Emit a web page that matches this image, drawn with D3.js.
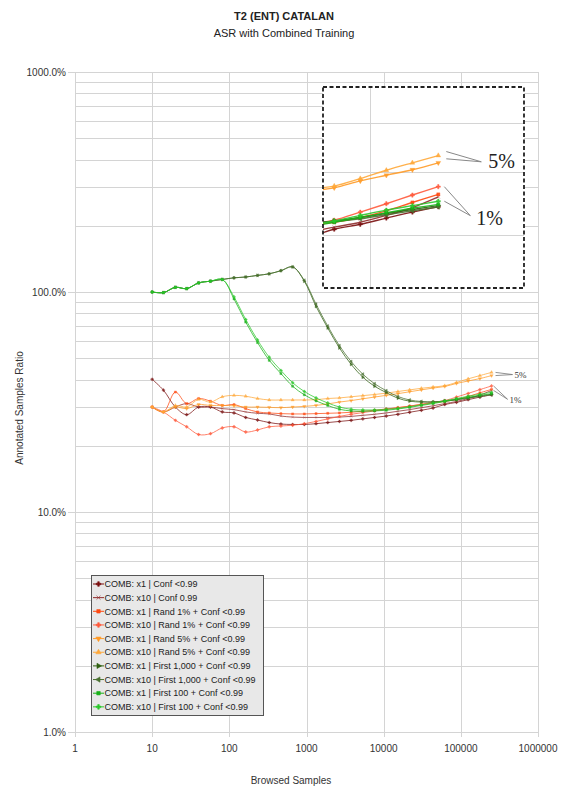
<!DOCTYPE html>
<html>
<head>
<meta charset="utf-8">
<script src="https://cdn.jsdelivr.net/npm/d3@7"></script>
<style>
  body { margin: 0; background: #fff; }
  svg { display: block; }
  text { font-family: "Liberation Sans", Arial, sans-serif; fill: #222; }
</style>
</head>
<body>
<svg id="chart" width="568" height="789"></svg>
<script>
// ---- data -------------------------------------------------------------
const chartTitle = "T2 (ENT) CATALAN";
const chartSubtitle = "ASR with Combined Training";
const xAxisTitle = "Browsed Samples";
const yAxisTitle = "Annotated Samples Ratio";

const xTickValues = [1, 10, 100, 1000, 10000, 100000, 1000000];
const xTickLabels = ["1", "10", "100", "1000", "10000", "100000", "1000000"];
const yTickValues = [1, 10, 100, 1000];
const yTickLabels = ["1.0%", "10.0%", "100.0%", "1000.0%"];

// browsed samples at each evaluation step
const samples = [10, 14, 20, 28, 40, 57, 81, 115, 163, 232, 329, 466, 661, 937,
  1330, 1885, 2670, 3790, 5370, 7620, 10800, 15300, 21700, 30800, 43700,
  61900, 87800, 124500, 176600, 250000];

const seriesNames = [
  "COMB: x1 | Conf <0.99",
  "COMB: x10 | Conf 0.99",
  "COMB: x1 | Rand 1% + Conf <0.99",
  "COMB: x10 | Rand 1% + Conf <0.99",
  "COMB: x1 | Rand 5% + Conf <0.99",
  "COMB: x10 | Rand 5% + Conf <0.99",
  "COMB: x1 | First 1,000 + Conf <0.99",
  "COMB: x10 | First 1,000 + Conf <0.99",
  "COMB: x1 | First 100 + Conf <0.99",
  "COMB: x10 | First 100 + Conf <0.99"
];

// annotated samples ratio, in percent
const confX1 = [40.1, 35.8, 30.0, 27.7, 30.0, 30.0, 28.5, 28.2, 26.9, 26.2, 25.5, 25.1, 25.0, 25.0, 25.2,
  25.5, 25.8, 26.1, 26.5, 26.9, 27.3, 27.8, 28.4, 29.0, 29.7, 30.8, 31.5, 32.4, 33.3, 34.1];
const confX10 = [30.0, 28.5, 30.0, 31.1, 30.0, 30.0, 29.5, 29.2, 28.5, 28.1, 27.9, 27.3, 27.0, 26.9, 26.9,
  26.9, 27.0, 27.2, 27.5, 27.8, 28.2, 28.7, 29.2, 29.8, 30.4, 31.1, 31.8, 32.8, 34.0, 35.7];
const rand1X1 = [30.0, 28.5, 35.1, 31.1, 32.8, 31.9, 30.5, 30.8, 29.5, 28.5, 28.2, 28.0, 27.9, 27.9, 28.0,
  28.1, 28.2, 28.4, 28.7, 29.0, 29.4, 29.8, 30.3, 30.8, 31.4, 31.8, 32.5, 33.5, 34.8, 36.1];
const rand1X10 = [30.0, 28.5, 26.1, 24.4, 22.5, 22.7, 24.1, 24.4, 23.1, 23.6, 24.4, 24.6, 24.8, 25.2, 25.8,
  26.5, 27.2, 27.8, 28.3, 28.8, 29.3, 29.8, 30.3, 30.9, 31.5, 32.1, 33.3, 34.6, 36.0, 37.4];
const rand5X1 = [30.0, 28.5, 30.0, 29.5, 30.8, 30.5, 30.5, 30.4, 30.0, 30.0, 29.9, 29.8, 30.0, 30.2, 30.5,
  31.0, 31.6, 32.1, 32.7, 33.3, 33.9, 34.5, 35.2, 35.9, 36.6, 37.2, 38.4, 39.4, 40.4, 41.7];
const rand5X10 = [30.0, 28.5, 30.5, 30.0, 32.5, 31.6, 33.4, 33.9, 33.6, 32.8, 32.3, 32.3, 32.3, 32.3, 32.4,
  32.8, 33.0, 33.4, 33.8, 34.2, 34.7, 35.3, 35.9, 36.5, 37.0, 37.5, 38.8, 40.3, 41.7, 43.1];
const first1000X1 = [100, 99.4, 105, 103.6, 110, 112, 114, 116, 117, 119, 121, 125, 130, 112, 86,
  68.6, 55.7, 46.9, 41.0, 37.3, 34.9, 32.9, 31.9, 31.6, 31.6, 32.0, 32.5, 33.1, 33.7, 34.3];
const first1000X10 = [100, 99.4, 105, 103.6, 110, 112, 114, 116, 117, 119, 121, 125, 130, 113, 88,
  70.0, 57.0, 48.3, 42.3, 38.3, 35.6, 33.5, 32.3, 31.8, 31.7, 31.9, 32.3, 32.9, 33.5, 34.1];
const first100X1 = [100, 99.4, 105, 103.6, 110, 112, 114, 93, 73, 58.9, 48.9, 42.6, 37.3, 34.1, 32.0,
  30.5, 29.3, 28.8, 28.7, 28.8, 29.0, 29.4, 29.9, 30.5, 31.1, 31.8, 32.5, 33.2, 33.9, 34.5];
const first100X10 = [100, 99.4, 105, 103.6, 110, 112, 114, 95, 75, 60.5, 50.5, 44.0, 38.7, 35.3, 33.0,
  31.3, 30.0, 29.3, 29.1, 29.1, 29.3, 29.6, 30.1, 30.7, 31.3, 32.0, 32.8, 33.6, 34.3, 35.0];

const annotationLabels = ["5%", "1%"];

// ---- styling table built from the arrays above -----------------------------
const rotated = (type, deg) => ({ type, deg });
const series = [
  { name: seriesNames[0], values: confX1,       color: "#7a1010", marker: rotated(d3.symbolCross, 0) },
  { name: seriesNames[1], values: confX10,      color: "#8e2a2a", marker: rotated(d3.symbolTimes, 0) },
  { name: seriesNames[2], values: rand1X1,      color: "#ff4a12", marker: rotated(d3.symbolSquare, 0) },
  { name: seriesNames[3], values: rand1X10,     color: "#ff5a3c", marker: rotated(d3.symbolCross, 0) },
  { name: seriesNames[4], values: rand5X1,      color: "#ff9a26", marker: rotated(d3.symbolTriangle, 180) },
  { name: seriesNames[5], values: rand5X10,     color: "#ffa83a", marker: rotated(d3.symbolTriangle, 0) },
  { name: seriesNames[6], values: first1000X1,  color: "#2f5f10", marker: rotated(d3.symbolTriangle, 90) },
  { name: seriesNames[7], values: first1000X10, color: "#4a7030", marker: rotated(d3.symbolTriangle, -90) },
  { name: seriesNames[8], values: first100X1,   color: "#18b018", marker: rotated(d3.symbolSquare, 0) },
  { name: seriesNames[9], values: first100X10,  color: "#2cc82c", marker: rotated(d3.symbolCross, 0) }
];
series.forEach(s => { s.points = samples.map((v, i) => [v, s.values[i]]); });

// ---- layout --------------------------------------------------------------
const svg = d3.select("#chart");
const plot = { left: 75, right: 538, top: 72, bottom: 732 };
const x = d3.scaleLog().domain([1, 1e6]).range([plot.left, plot.right]);
const y = d3.scaleLog().domain([1, 1000]).range([plot.bottom, plot.top]);

const gridColor = "#d4d4d4";
const minorValues = [];
for (let dec = 1; dec < 1000; dec *= 10)
  for (let m = 2; m <= 9; m++) minorValues.push(dec * m);

// titles
svg.append("text").attr("x", 284).attr("y", 20).attr("text-anchor", "middle")
  .style("font-size", "11px").style("font-weight", "bold").text(chartTitle);
svg.append("text").attr("x", 284).attr("y", 37).attr("text-anchor", "middle")
  .style("font-size", "11px").text(chartSubtitle);

// grid
const grid = svg.append("g").attr("stroke", gridColor).attr("stroke-width", 1);
grid.selectAll(".hmin").data(minorValues).join("line")
  .attr("x1", plot.left).attr("x2", plot.right)
  .attr("y1", d => Math.round(y(d)) + 0.5).attr("y2", d => Math.round(y(d)) + 0.5);
grid.selectAll(".hmaj").data(yTickValues).join("line")
  .attr("x1", plot.left - 7).attr("x2", plot.right)
  .attr("y1", d => Math.round(y(d)) + 0.5).attr("y2", d => Math.round(y(d)) + 0.5);
grid.selectAll(".vmaj").data(xTickValues).join("line")
  .attr("x1", d => Math.round(x(d)) + 0.5).attr("x2", d => Math.round(x(d)) + 0.5)
  .attr("y1", plot.top).attr("y2", plot.bottom + 5);

// axis tick labels
svg.append("g").selectAll("text").data(yTickValues).join("text")
  .attr("x", 66).attr("y", d => y(d) + 3.5).attr("text-anchor", "end")
  .style("font-size", "10px").style("fill", "#333")
  .text((d, i) => yTickLabels[i]);
svg.append("g").selectAll("text").data(xTickValues).join("text")
  .attr("x", d => x(d)).attr("y", 752).attr("text-anchor", "middle")
  .style("font-size", "10px").style("fill", "#333")
  .text((d, i) => xTickLabels[i]);

// axis titles
svg.append("text").attr("x", 291).attr("y", 784).attr("text-anchor", "middle")
  .style("font-size", "10px").style("fill", "#333").text(xAxisTitle);
svg.append("text").attr("transform", "translate(23,408) rotate(-90)")
  .attr("text-anchor", "middle").style("font-size", "10px").style("fill", "#333")
  .text(yAxisTitle);

// ---- series drawing helper ------------------------------------------------
function drawSeries(g, sx, sy, lineWidth, markerSize, opacity) {
  const line = d3.line().x(d => sx(d[0])).y(d => sy(d[1])).curve(d3.curveCatmullRom.alpha(0.5));
  series.forEach(s => {
    g.append("path").attr("d", line(s.points)).attr("fill", "none")
      .attr("stroke", s.color).attr("stroke-width", lineWidth).attr("stroke-opacity", opacity);
    const sym = d3.symbol().type(s.marker.type).size(markerSize);
    g.append("g").selectAll("path").data(s.points).join("path")
      .attr("d", sym)
      .attr("transform", d => `translate(${sx(d[0])},${sy(d[1])}) rotate(${s.marker.deg})`)
      .attr("fill", s.color).attr("fill-opacity", opacity)
      .attr("stroke", s.color).attr("stroke-width", 0.4).attr("stroke-opacity", opacity);
  });
}

drawSeries(svg.append("g"), x, y, 1, 4.5, 0.75);

// end-of-line annotations in the main plot
const last = samples.length - 1;
const ann = svg.append("g").attr("stroke", "#777").attr("stroke-width", 0.8).attr("fill", "none");
const xEnd = x(samples[last]);
[rand5X10, rand5X1].forEach(v => ann.append("line")
  .attr("x1", xEnd + 4).attr("y1", y(v[last])).attr("x2", xEnd + 21).attr("y2", y(rand5X1[last]) - 1));
[rand1X10, confX10].forEach(v => ann.append("line")
  .attr("x1", xEnd + 2).attr("y1", y(v[last])).attr("x2", xEnd + 16).attr("y2", y(first1000X1[last]) + 5));
svg.append("text").attr("x", xEnd + 23).attr("y", y(rand5X1[last]) + 2.5)
  .style("font-family", "'Liberation Serif', 'Times New Roman', serif").style("font-size", "9px")
  .style("fill", "#333").text(annotationLabels[0]);
svg.append("text").attr("x", xEnd + 18).attr("y", y(first1000X1[last]) + 8.5)
  .style("font-family", "'Liberation Serif', 'Times New Roman', serif").style("font-size", "9px")
  .style("fill", "#333").text(annotationLabels[1]);

// ---- magnified inset of the line ends ------------------------------------
const box = { left: 323, top: 87, right: 524, bottom: 288 };
const ix = d3.scaleLog().domain([100000, 250000]).range([370, 438.3]);
const iy = d3.scaleLog().domain([30, 50]).range([235, 123]);

svg.append("clipPath").attr("id", "insetClip").append("rect")
  .attr("x", box.left).attr("y", box.top)
  .attr("width", box.right - box.left).attr("height", box.bottom - box.top);
const inset = svg.append("g").attr("clip-path", "url(#insetClip)");
inset.append("rect").attr("x", box.left).attr("y", box.top)
  .attr("width", box.right - box.left).attr("height", box.bottom - box.top).attr("fill", "#fff");
const ig = inset.append("g").attr("stroke", gridColor).attr("stroke-width", 1);
ig.selectAll("line.h").data(minorValues.concat(yTickValues)).join("line")
  .attr("x1", box.left).attr("x2", box.right)
  .attr("y1", d => Math.round(iy(d)) + 0.5).attr("y2", d => Math.round(iy(d)) + 0.5);
ig.selectAll("line.v").data(xTickValues).join("line")
  .attr("x1", d => Math.round(ix(d)) + 0.5).attr("x2", d => Math.round(ix(d)) + 0.5)
  .attr("y1", box.top).attr("y2", box.bottom);
drawSeries(inset.append("g"), ix, iy, 1.4, 10, 0.9);

const iEnd = ix(samples[last]);
const ia = inset.append("g").attr("stroke", "#888").attr("stroke-width", 1).attr("fill", "none");
[rand5X10, rand5X1].forEach(v => ia.append("line")
  .attr("x1", iEnd + 8).attr("y1", iy(v[last]) - 4).attr("x2", iEnd + 43).attr("y2", iy(rand5X1[last]) - 1));
[rand1X10, first100X10].forEach(v => ia.append("line")
  .attr("x1", iEnd + 6).attr("y1", iy(v[last])).attr("x2", iEnd + 32).attr("y2", iy(first1000X1[last]) + 10));
inset.append("text").attr("x", iEnd + 50).attr("y", iy(rand5X1[last]) + 5)
  .style("font-family", "'Liberation Serif', 'Times New Roman', serif").style("font-size", "20px")
  .style("fill", "#222").text(annotationLabels[0]);
inset.append("text").attr("x", iEnd + 38).attr("y", iy(first1000X1[last]) + 19)
  .style("font-family", "'Liberation Serif', 'Times New Roman', serif").style("font-size", "20px")
  .style("fill", "#222").text(annotationLabels[1]);

svg.append("rect").attr("x", box.left).attr("y", box.top)
  .attr("width", box.right - box.left).attr("height", box.bottom - box.top)
  .attr("fill", "none").attr("stroke", "#222").attr("stroke-width", 1.8)
  .attr("stroke-dasharray", "4,2.5");

// ---- legend --------------------------------------------------------------
const legend = svg.append("g");
legend.append("rect").attr("x", 91.5).attr("y", 575.5).attr("width", 172).attr("height", 140)
  .attr("fill", "#e8e8e8").attr("stroke", "#555").attr("stroke-width", 1);
const rowH = 13.65;
series.forEach((s, i) => {
  const cy = 584 + i * rowH;
  legend.append("line").attr("x1", 93).attr("x2", 104).attr("y1", cy).attr("y2", cy)
    .attr("stroke", s.color).attr("stroke-width", 1);
  legend.append("path").attr("d", d3.symbol().type(s.marker.type).size(12))
    .attr("transform", `translate(98.5,${cy}) rotate(${s.marker.deg})`)
    .attr("fill", s.color).attr("stroke", s.color).attr("stroke-width", 0.6);
  legend.append("text").attr("x", 104.5).attr("y", cy + 3.2)
    .style("font-size", "9px").style("fill", "#222").text(s.name);
});
</script>
</body>
</html>
